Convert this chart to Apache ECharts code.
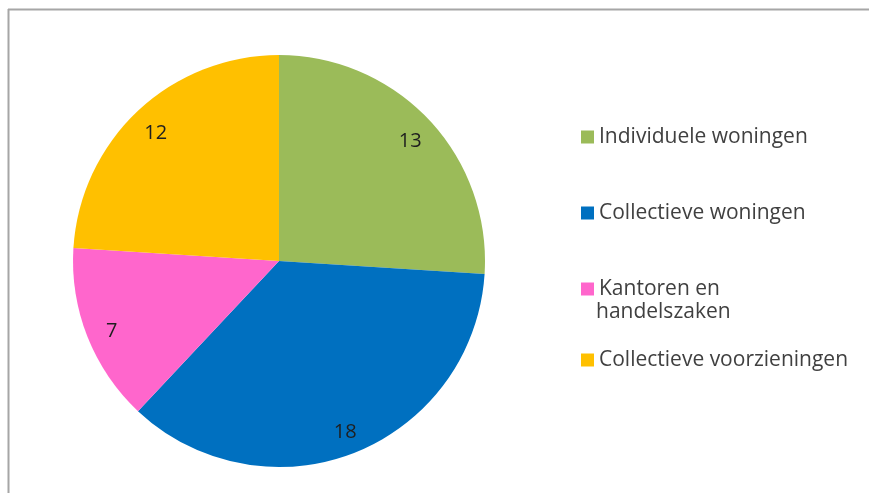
<!DOCTYPE html>
<html>
<head>
<meta charset="utf-8">
<script src="https://cdn.jsdelivr.net/npm/echarts@6/dist/echarts.min.js"></script>
<style>
  html, body { margin: 0; padding: 0; background: #fff; }
  #pie-chart { width: 869px; height: 493px; }
</style>
</head>
<body>
<div id="pie-chart"></div>
<script>
var categories = ['Individuele woningen', 'Collectieve woningen', 'Kantoren en handelszaken', 'Collectieve voorzieningen'];
var values = [13, 18, 7, 12];
var colors = ['#9bbb59', '#0070c0', '#ff66cc', '#ffc000'];
var legendTops = [118, 194, 270, 341];

var chart = echarts.init(document.getElementById('pie-chart')),
    font = '"Open Sans", Lato, sans-serif',
    pieData = categories.map(function(name, i) {
        return { value: values[i], name: name, itemStyle: { color: colors[i] } };
    }),
    legends = categories.map(function(name, i) {
        return {
            orient: 'vertical',
            left: 576,
            top: legendTops[i],
            icon: 'rect',
            itemWidth: 13,
            itemHeight: 13,
            selectedMode: false,
            data: [name],
            formatter: function(n) {
                return n === 'Kantoren en handelszaken' ? 'Kantoren en' : n;
            },
            textStyle: { fontFamily: font, fontSize: 21, color: '#404040', lineHeight: 28 }
        };
    }),
    option = {
        backgroundColor: '#ffffff',
        animation: false,
        legend: legends,
        graphic: [
            {
                type: 'line',
                shape: { x1: 8, y1: 9.5, x2: 869, y2: 9.5 },
                style: { stroke: '#a6a6a6', lineWidth: 2 }
            },
            {
                type: 'line',
                shape: { x1: 8.5, y1: 9, x2: 8.5, y2: 493 },
                style: { stroke: '#a6a6a6', lineWidth: 2 }
            },
            {
                type: 'text',
                left: 596,
                top: 302,
                style: { text: 'handelszaken', font: '21px ' + font, fill: '#404040' }
            }
        ],
        series: [
            {
                type: 'pie',
                center: [279, 261],
                radius: [0, 206],
                startAngle: 90,
                clockwise: true,
                label: { show: false },
                labelLine: { show: false },
                emphasis: { disabled: true },
                data: pieData
            },
            {
                // label ring: only carries the value labels at ~0.86 of the radius
                type: 'pie',
                center: [279, 261],
                radius: [148, 206],
                startAngle: 90,
                clockwise: true,
                silent: true,
                legendHoverLink: false,
                itemStyle: { color: 'transparent' },
                label: {
                    show: true,
                    position: 'inside',
                    formatter: '{c}',
                    offset: [0, 4],
                    fontFamily: font,
                    fontSize: 20,
                    color: '#1f1f1f'
                },
                labelLine: { show: false },
                data: values.map(function(v, i) { return { value: v, name: categories[i] + ' ' }; })
            }
        ]
    };
chart.setOption(option);
</script>
</body>
</html>
